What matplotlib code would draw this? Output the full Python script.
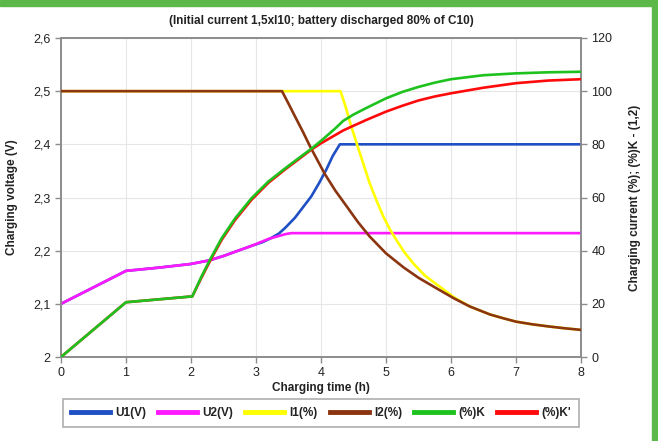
import matplotlib
matplotlib.use('Agg')
import matplotlib.pyplot as plt
from matplotlib.lines import Line2D
from matplotlib.patches import Rectangle
from matplotlib.ticker import FuncFormatter

plt.rcParams['font.family'] = ['Liberation Sans', 'DejaVu Sans']

# Charging voltages (V), left axis
u1_t = [0, 1, 1.5, 2, 2.29, 2.5, 2.68, 2.93, 3.1, 3.22, 3.35, 3.45, 3.6, 3.70,
        3.85, 3.97, 4.08, 4.18, 4.29, 8]
u1_v = [2.100, 2.162, 2.168, 2.175, 2.182, 2.190, 2.198, 2.209, 2.216, 2.223,
        2.232, 2.243, 2.262, 2.278, 2.302, 2.327, 2.352, 2.378, 2.400, 2.400]
u2_t = [0, 1, 1.5, 2, 2.29, 2.5, 2.68, 2.93, 3.19, 3.45, 3.54, 8]
u2_v = [2.100, 2.162, 2.168, 2.175, 2.182, 2.190, 2.198, 2.209, 2.222, 2.231,
        2.233, 2.233]

# Charging currents (%), right axis
i1_t = [0, 4.30, 4.38, 4.45, 4.58, 4.75, 4.86, 4.96, 5.06, 5.16, 5.28, 5.42, 5.6,
        5.83, 6.05, 6.29, 6.6, 6.8, 7.0, 7.25, 7.5, 7.75, 8]
i1_v = [100, 100, 94, 88, 78, 65.3, 58.5, 52.8, 48, 44, 39.5, 35.2, 30.6,
        26.4, 22.4, 19, 16, 14.6, 13.3, 12.3, 11.5, 10.8, 10.2]
i2_t = [0, 3.40, 3.5, 3.6, 3.72, 3.83, 3.95, 4.06, 4.22, 4.4, 4.57, 4.75, 5.0,
        5.27, 5.5, 5.78, 6.05, 6.29, 6.6, 6.8, 7.0, 7.25, 7.5, 7.75, 8]
i2_v = [100, 100, 95.3, 90.5, 84.8, 79.3, 73.8, 68.8, 62.6, 56.5, 50.7, 45.3, 39,
        33.7, 29.8, 25.8, 22, 19, 16, 14.6, 13.3, 12.3, 11.5, 10.8, 10.2]

# Charge returned (%)K and (%)K', right axis
k_t = [0, 1, 2.02, 2.16, 2.29, 2.47, 2.68, 2.93, 3.19, 3.45, 3.70, 3.85, 4.0,
       4.22, 4.34, 4.5, 4.7, 5.0, 5.25, 5.5, 5.75, 6.0, 6.5, 7.0, 7.5, 8]
k_v = [0, 20.6, 22.8, 30.2, 36.5, 44.6, 52.2, 59.7, 66, 71, 75.6, 78.3, 81.3,
       86, 88.8, 91.2, 93.7, 97.3, 99.7, 101.6, 103.2, 104.5, 106, 106.7, 107.1, 107.3]
k2_t = [0, 1, 2.02, 2.16, 2.29, 2.47, 2.68, 2.93, 3.19, 3.45, 3.70, 3.85, 4.0,
        4.22, 4.34, 4.5, 4.7, 5.0, 5.25, 5.5, 5.75, 6.0, 6.5, 7.0, 7.5, 8]
k2_v = [0, 20.6, 22.8, 29.8, 36.0, 44.0, 51.6, 59.1, 65.5, 70.6, 75.2, 78.0, 80.4,
        83.5, 85.2, 87, 89.2, 92.3, 94.5, 96.5, 98, 99.2, 101.3, 103, 104, 104.5]

COLORS = {
    'U1': '#1f4fc4',
    'U2': '#ff19ff',
    'I1': '#ffff00',
    'I2': '#8b3510',
    'K': '#1ec21e',
    'K2': '#ff0a0a',
}
GRID = '#e6e6e6'
SPINE = '#8c8c8c'
TXT = '#222222'

fig = plt.figure(figsize=(6.58, 4.41), dpi=100)
ax = fig.add_axes([61 / 658, 1 - 357 / 441, 520 / 658, 319 / 441])
ax2 = ax.twinx()

lw = 1.9
# voltages on the left scale
ax.plot(u1_t, u1_v, color=COLORS['U1'], lw=lw, zorder=3)
ax.plot(u2_t, u2_v, color=COLORS['U2'], lw=lw, zorder=4)
# currents and charge on the right scale
ax2.plot(i1_t, i1_v, color=COLORS['I1'], lw=lw, zorder=2)
ax2.plot(i2_t, i2_v, color=COLORS['I2'], lw=lw, zorder=3)
ax2.plot(k2_t, k2_v, color=COLORS['K2'], lw=lw, zorder=4)
ax2.plot(k_t, k_v, color=COLORS['K'], lw=lw, zorder=5)

ax.set_xlim(0, 8)
ax.set_ylim(2.0, 2.6)
ax2.set_ylim(0, 120)
ax.set_xticks(range(0, 9))
ax.set_yticks([2.0, 2.1, 2.2, 2.3, 2.4, 2.5, 2.6])
ax2.set_yticks(range(0, 121, 20))
ax.yaxis.set_major_formatter(FuncFormatter(
    lambda v, p: '2' if abs(v - 2.0) < 1e-9 else f'{v:.1f}'.replace('.', ',')))

ax.grid(True, color=GRID, lw=0.8)
ax.set_axisbelow(True)

for a in (ax, ax2):
    for s in a.spines.values():
        s.set_color(SPINE)
        s.set_linewidth(1.2)
    a.tick_params(colors=SPINE, labelcolor=TXT, labelsize=9, length=4, width=1)

ax.set_xlabel('Charging time (h)', fontsize=8.5, fontweight='bold', color=TXT, labelpad=2)
ax.set_ylabel('Charging voltage (V)', fontsize=8.5, fontweight='bold', color=TXT, labelpad=11)
ax2.set_ylabel('Charging current (%); (%)K - (1,2)', fontsize=8.5, fontweight='bold',
               color=TXT, labelpad=12)
ax.set_title('(Initial current 1,5xI10; battery discharged 80% of C10)',
             fontsize=8.5, fontweight='bold', color=TXT, pad=10)

labels = ['U1(V)', 'U2(V)', 'I1(%)', 'I2(%)', '(%)K', "(%)K'"]
keys = ['U1', 'U2', 'I1', 'I2', 'K', 'K2']
handles = [Line2D([], [], color=COLORS[k], lw=3.5) for k in keys]
leg = fig.legend(handles, labels, ncol=6, loc='center',
                 bbox_to_anchor=(321 / 658, 1 - 413 / 441),
                 fontsize=8.5, frameon=True, fancybox=False, handlelength=3.3,
                 handletextpad=0.45, columnspacing=1.0, borderpad=0.7,
                 borderaxespad=0)
leg.get_frame().set_edgecolor('#9a9a9a')
leg.get_frame().set_linewidth(1.2)
for t in leg.get_texts():
    t.set_fontweight('bold')
    t.set_color(TXT)

# green page border
border = '#5cb848'
fig.patches.append(Rectangle((0, 1 - 6 / 441), 1, 6 / 441, transform=fig.transFigure,
                             color=border, zorder=10))
fig.patches.append(Rectangle((652 / 658, 0), 5 / 658, 1, transform=fig.transFigure,
                             color=border, zorder=10))

fig.savefig('out.png', dpi=100)
